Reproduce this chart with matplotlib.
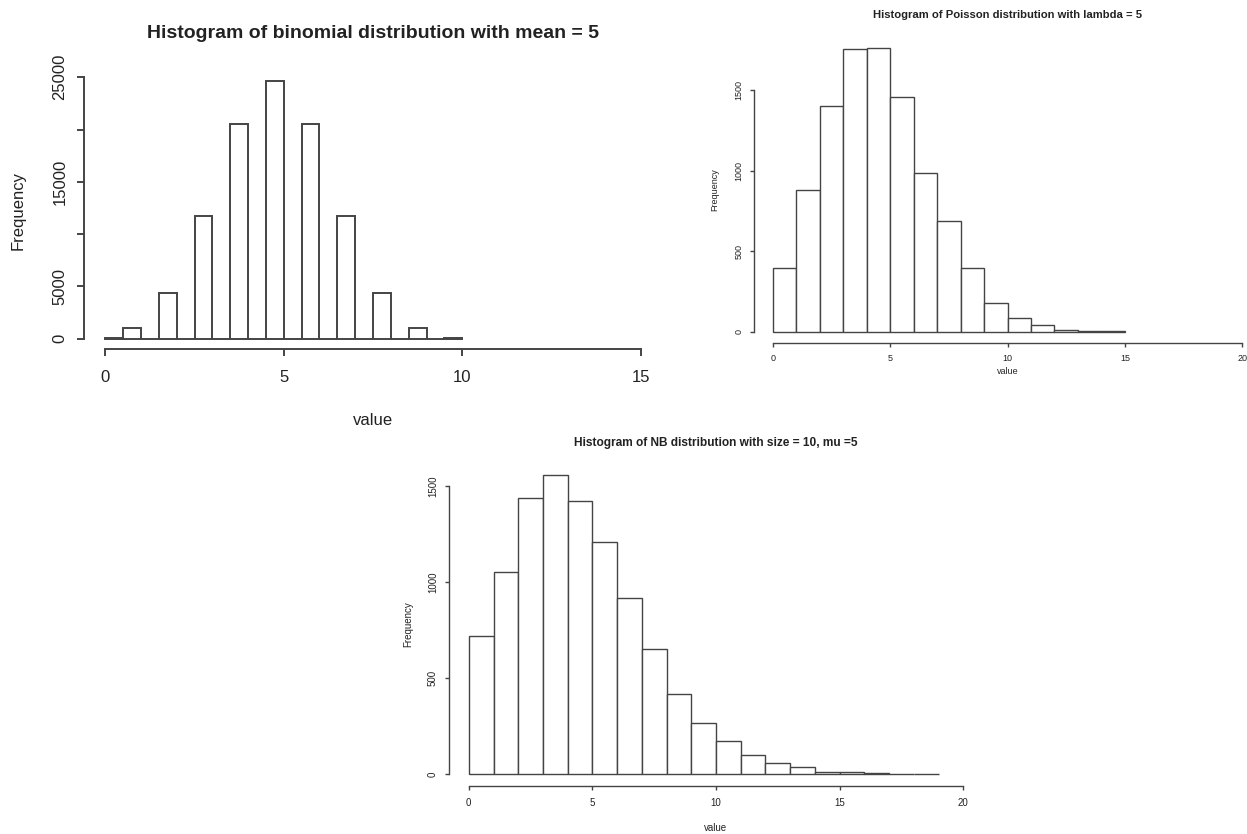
import matplotlib
matplotlib.use("Agg")
import matplotlib.pyplot as plt

plt.rcParams["font.family"] = ["Liberation Sans", "DejaVu Sans"]

W, H = 1247, 834

# binomial, mean 5: bins of width 0.5
binom_edges = [i * 0.5 for i in range(21)]
binom_counts = [98, 977, 0, 4395, 0, 11719, 0, 20508, 0, 24609,
                0, 20508, 0, 11719, 0, 4395, 0, 977, 0, 98]

# Poisson, lambda 5: bins of width 1
pois_edges = list(range(16))
pois_counts = [395, 880, 1402, 1754, 1760, 1460, 983, 687, 397, 176,
               87, 39, 11, 2, 5]

# negative binomial, size 10, mu 5
nb_edges = list(range(20))
nb_counts = [718, 1052, 1436, 1557, 1419, 1208, 917, 652, 419, 268,
             173, 99, 55, 35, 12, 8, 3, 2, 1]

binom_xticks = [0, 5, 10, 15]
binom_yticks = [0, 5000, 10000, 15000, 20000, 25000]
binom_ylabels = ["0", "5000", "", "15000", "", "25000"]
pois_xticks = [0, 5, 10, 15, 20]
pois_yticks = [0, 500, 1000, 1500]
nb_xticks = [0, 5, 10, 15, 20]
nb_yticks = [0, 500, 1000, 1500]

LINE = "#444444"
TEXT = "#222222"


def r_hist(fig, box, edges, counts, xlim, ylim, xticks, yticks, ylabels,
           title, size, tsize, lw, ticklen, xpad, ypad,
           title_y, xlab_y, ylab_x):
    left, right, top, bottom = box
    ax = fig.add_axes([left / W, 1 - bottom / H, (right - left) / W, (bottom - top) / H])
    widths = [edges[i + 1] - edges[i] for i in range(len(counts))]
    ax.bar(edges[:len(counts)], counts, width=widths, align="edge",
           facecolor="white", edgecolor=LINE, linewidth=lw)
    ax.set_xlim(*xlim)
    ax.set_ylim(*ylim)
    for s in ["top", "right"]:
        ax.spines[s].set_visible(False)
    for s in ["left", "bottom"]:
        ax.spines[s].set_color(LINE)
        ax.spines[s].set_linewidth(lw)
    ax.spines["bottom"].set_bounds(xticks[0], xticks[-1])
    ax.spines["left"].set_bounds(yticks[0], yticks[-1])
    ax.set_xticks(xticks)
    ax.set_yticks(yticks)
    ax.set_yticklabels(ylabels if ylabels else [str(v) for v in yticks])
    ax.tick_params(direction="out", length=ticklen, width=lw, color=LINE,
                   labelsize=size, labelcolor=TEXT)
    ax.tick_params(axis="x", pad=xpad)
    ax.tick_params(axis="y", pad=ypad)
    for lab in ax.get_yticklabels():
        lab.set_rotation(90)
        lab.set_verticalalignment("center")
    ax.set_title(title, fontsize=tsize, fontweight="bold", color=TEXT, pad=0,
                 y=(bottom - title_y) / (bottom - top), va="center")
    ax.set_xlabel("value", fontsize=size, color=TEXT)
    ax.set_ylabel("Frequency", fontsize=size, color=TEXT)
    ax.xaxis.set_label_coords(0.5, (bottom - xlab_y) / (bottom - top))
    ax.yaxis.set_label_coords((ylab_x - left) / (right - left), 0.5)
    ax.xaxis.label.set_verticalalignment("center")
    ax.yaxis.label.set_verticalalignment("center")
    return ax


fig = plt.figure(figsize=(W / 100, H / 100), dpi=100)

r_hist(fig, (84, 662, 71, 349), binom_edges, binom_counts,
       (-0.6, 15.6), (-984, 25593), binom_xticks, binom_yticks, binom_ylabels,
       "Histogram of binomial distribution with mean = 5", 12, 14, 1.4, 5, 10, 7,
       33, 420, 18)

r_hist(fig, (754, 1261, 37, 343), pois_edges, pois_counts,
       (-0.8, 20.8), (-70.4, 1830.4), pois_xticks, pois_yticks, None,
       "Histogram of Poisson distribution with lambda = 5", 6.5, 8.1, 1.0, 3, 5, 4.5,
       15, 372, 715)

r_hist(fig, (449, 983, 463, 786), nb_edges, nb_counts,
       (-0.8, 20.8), (-62.3, 1619.3), nb_xticks, nb_yticks, None,
       "Histogram of NB distribution with size = 10, mu =5", 7, 8.6, 1.0, 3, 6, 5,
       443, 828, 408)

fig.savefig("out.png", dpi=100)
